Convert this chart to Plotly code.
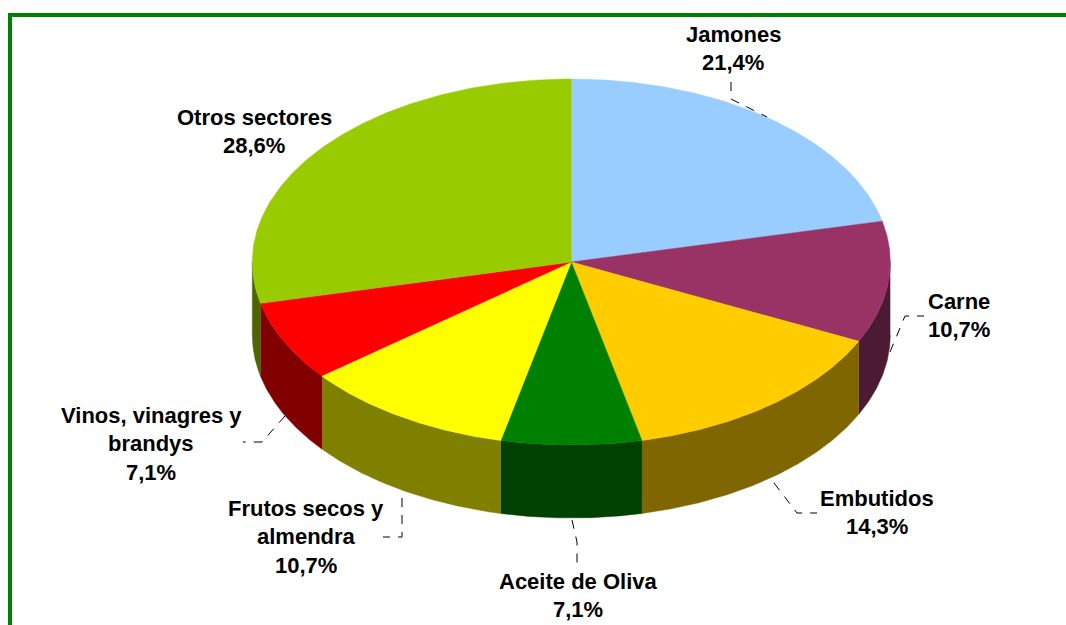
import numpy as np
import plotly.graph_objects as go

categories = ["Jamones", "Carne", "Embutidos", "Aceite de Oliva",
              "Frutos secos y almendra", "Vinos, vinagres y brandys", "Otros sectores"]
values = [21.4, 10.7, 14.3, 7.1, 10.7, 7.1, 28.6]
top_colors = ["#99CCFF", "#993366", "#FFCC00", "#008000", "#FFFF00", "#FF0000", "#99CC00"]
side_colors = ["#4D6680", "#4D1A33", "#806600", "#004000", "#808000", "#800000", "#4D6600"]
label_lines = [["Jamones"], ["Carne"], ["Embutidos"], ["Aceite de Oliva"],
               ["Frutos secos y", "almendra"], ["Vinos, vinagres y", "brandys"], ["Otros sectores"]]

CX, CY, RX, RY, DEPTH = 571.3, 262.0, 319.0, 183.0, 73.0
GREEN = "#008000"
FONT = dict(family="Liberation Sans, Arial, sans-serif", size=22, color="#000000")
LINE_H = 28.8

label_pos = [(733, 34), (959, 301), (877, 498), (578, 581), (306, 508), (151, 415), (254, 117)]
leaders = [
    [(731, 82), (731, 99), (767, 117)],
    [(890, 352), (905, 316), (924, 316)],
    [(774, 483), (797, 513), (817, 513)],
    [(572, 520), (577, 542), (577, 563)],
    [(402, 498), (402, 537), (383, 537)],
    [(285, 416), (262, 442), (243, 442)],
]

fig = go.Figure()
total = sum(values)
edges = np.concatenate([[0.0], np.cumsum(values)]) / total * 2 * np.pi


def px(t):
    return CX + RX * np.sin(t)


def py(t):
    return CY - RY * np.cos(t)


# side walls (visible only on the near half of the disc)
for i in range(len(values)):
    a, b = max(edges[i], np.pi / 2), min(edges[i + 1], 3 * np.pi / 2)
    if b <= a:
        continue
    t = np.linspace(a, b, 120)
    xs = np.concatenate([px(t), px(t[::-1])])
    ys = np.concatenate([py(t), py(t[::-1]) + DEPTH])
    fig.add_trace(go.Scatter(x=xs, y=ys, mode="lines", fill="toself", fillcolor=side_colors[i],
                             line=dict(width=0.5, color=side_colors[i]), hoverinfo="skip", name=categories[i]))

# top faces
for i in range(len(values)):
    t = np.linspace(edges[i], edges[i + 1], 160)
    xs = np.concatenate([[CX], px(t), [CX]])
    ys = np.concatenate([[CY], py(t), [CY]])
    fig.add_trace(go.Scatter(x=xs, y=ys, mode="lines", fill="toself", fillcolor=top_colors[i],
                             line=dict(width=0.5, color=top_colors[i]), hoverinfo="skip", name=categories[i]))

# leader lines
for pts in leaders:
    fig.add_trace(go.Scatter(x=[p[0] for p in pts], y=[p[1] for p in pts], mode="lines",
                             line=dict(color="#000000", width=1, dash="9px,8px"), hoverinfo="skip"))

# labels
annotations = []
for lines, val, (lx, ly) in zip(label_lines, values, label_pos):
    rows = lines + [f"{val:.1f}%".replace(".", ",")]
    for k, row in enumerate(rows):
        annotations.append(dict(x=lx, y=ly + k * LINE_H, xref="x", yref="y", text=f"<b>{row}</b>",
                                showarrow=False, font=FONT, xanchor="center", yanchor="middle"))

shapes = [
    dict(type="line", xref="x", yref="y", x0=10, y0=15, x1=1066, y1=15, line=dict(color=GREEN, width=4)),
    dict(type="line", xref="x", yref="y", x0=10, y0=13, x1=10, y1=625, line=dict(color=GREEN, width=4)),
]

fig.update_layout(
    width=1066, height=625, margin=dict(l=0, r=0, t=0, b=0),
    paper_bgcolor="#FFFFFF", plot_bgcolor="#FFFFFF", showlegend=False,
    xaxis=dict(range=[0, 1066], visible=False, fixedrange=True),
    yaxis=dict(range=[625, 0], visible=False, fixedrange=True),
    annotations=annotations, shapes=shapes,
)
fig.write_html("out.html", config=dict(displayModeBar=False),
               post_script="document.body.style.margin='0';document.body.style.overflow='hidden';")
